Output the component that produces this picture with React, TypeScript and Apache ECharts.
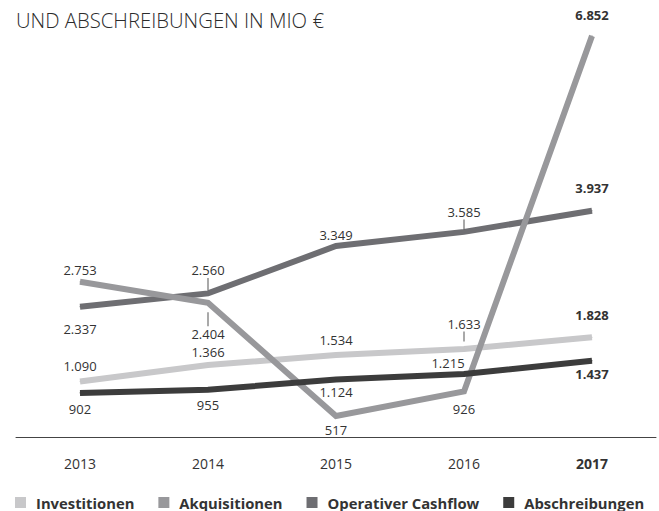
import React, { useEffect, useRef } from "react";
import * as echarts from "echarts";

const years = ["2013", "2014", "2015", "2016", "2017"];
const investitionen = [1090, 1366, 1534, 1633, 1828];
const akquisitionen = [2753, 2404, 517, 926, 6852];
const cashflow = [2337, 2560, 3349, 3585, 3937];
const abschreibungen = [902, 955, 1124, 1215, 1437];
const seriesNames = ["Investitionen", "Akquisitionen", "Operativer Cashflow", "Abschreibungen"];
const titleText = "UND ABSCHREIBUNGEN IN MIO €";

const FONT = "'Open Sans', 'Noto Sans', sans-serif";
const TXT = "#333333";

type Spec = { pos: "top" | "bottom"; dist: number; tick?: number; dx?: number; lh?: number };

const specInv: Spec[] = [
  { pos: "top", dist: 8 },
  { pos: "top", dist: 5 },
  { pos: "top", dist: 7 },
  { pos: "top", dist: 7, tick: 10 },
  { pos: "top", dist: 14 },
];
const specAkq: Spec[] = [
  { pos: "top", dist: 4 },
  { pos: "bottom", dist: 9, tick: 14, lh: 16 },
  { pos: "bottom", dist: 6 },
  { pos: "bottom", dist: 10 },
  { pos: "top", dist: 13 },
];
const specCf: Spec[] = [
  { pos: "bottom", dist: 14 },
  { pos: "top", dist: 3, tick: 12 },
  { pos: "top", dist: 3 },
  { pos: "top", dist: 2, tick: 10 },
  { pos: "top", dist: 15 },
];
const specAb: Spec[] = [
  { pos: "bottom", dist: 8 },
  { pos: "bottom", dist: 7 },
  { pos: "bottom", dist: 4 },
  { pos: "top", dist: 3, dx: -16 },
  { pos: "bottom", dist: 5 },
];

const fmt = (v: number) => String(v).replace(/\B(?=(\d{3})+(?!\d))/g, ".");

function mk(values: number[], specs: Spec[]) {
  return values.map((v, i) => {
    const s = specs[i];
    const bold = i === values.length - 1;
    const lh = s.lh || 15;
    const rich: any = {
      v: { fontSize: 13, color: TXT, fontFamily: FONT, lineHeight: lh, fontWeight: bold ? "bold" : "normal" },
      t: { width: 1, height: s.tick || 10, lineHeight: s.tick || 10, backgroundColor: "#555555" },
    };
    const txt = `{v|${fmt(v)}}`;
    let formatted = txt;
    if (s.tick) formatted = s.pos === "top" ? `${txt}\n{t|}` : `{t|}\n${txt}`;
    return {
      value: v,
      label: {
        show: true,
        position: s.pos,
        distance: s.dist,
        offset: [s.dx || 0, 0],
        align: "center",
        formatter: () => formatted,
        rich,
      },
    };
  });
}

function lineSeries(name: string, values: number[], specs: Spec[], color: string, z: number) {
  return {
    name,
    type: "line",
    data: mk(values, specs),
    z,
    symbol: "circle",
    symbolSize: 1,
    showSymbol: true,
    silent: true,
    itemStyle: { color },
    lineStyle: { width: 6, color, cap: "butt", join: "miter" },
    emphasis: { disabled: true },
  };
}

export default function App() {
  const ref = useRef<HTMLDivElement>(null);
  useEffect(() => {
    if (!ref.current) return;
    const chart = echarts.init(ref.current, null, { renderer: "svg" });
    chart.setOption({
      animation: false,
      backgroundColor: "#ffffff",
      title: {
        text: titleText,
        left: 11,
        top: 5,
        textStyle: { fontSize: 20.3, fontWeight: 300, color: "#2b2b2b", fontFamily: FONT },
      },
      legend: {
        data: seriesNames,
        left: 10,
        top: 490,
        icon: "rect",
        itemWidth: 11,
        itemHeight: 11,
        itemGap: 24,
        selectedMode: false,
        textStyle: { fontSize: 14.8, fontWeight: "bold", color: TXT, fontFamily: FONT, padding: [0, 0, 0, 5] },
      },
      grid: { left: 16, right: 3, top: 27, bottom: 64 },
      xAxis: {
        type: "category",
        data: years,
        boundaryGap: true,
        offset: -10,
        axisLine: { show: true, lineStyle: { color: "#444444", width: 1 } },
        axisTick: { show: false },
        axisLabel: {
          margin: 19,
          fontSize: 14,
          color: TXT,
          fontFamily: FONT,
          formatter: (v: string, i: number) => (i === years.length - 1 ? `{b|${v}}` : v),
          rich: { b: { fontSize: 14, fontWeight: "bold", color: TXT, fontFamily: FONT } },
        },
      },
      yAxis: { type: "value", min: 0, max: 7000, show: false, splitLine: { show: false } },
      series: [
        lineSeries(seriesNames[0], investitionen, specInv, "#c8c8ca", 3),
        lineSeries(seriesNames[1], akquisitionen, specAkq, "#98989b", 4),
        lineSeries(seriesNames[2], cashflow, specCf, "#6e6e72", 3),
        lineSeries(seriesNames[3], abschreibungen, specAb, "#3c3c3c", 5),
      ],
    });
    return () => chart.dispose();
  }, []);
  return (
    <div
      ref={ref}
      style={{ position: "fixed", left: 0, top: 0, width: 659, height: 511, background: "#fff" }}
    />
  );
}
